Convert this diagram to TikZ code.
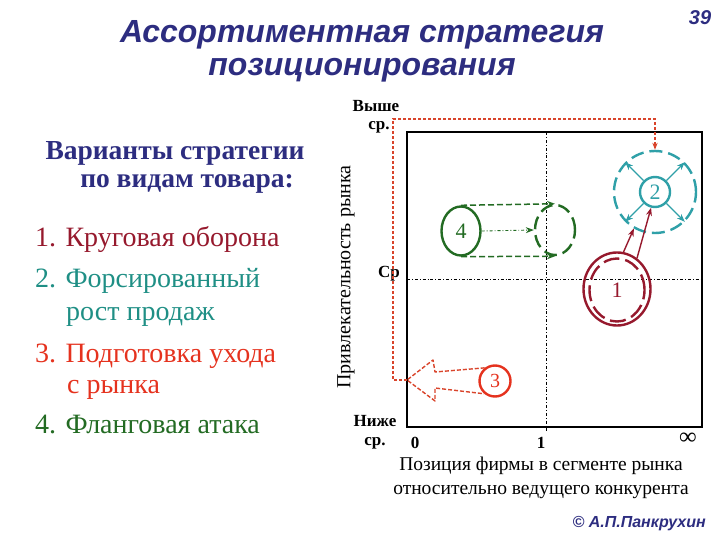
\documentclass[tikz,border=0pt]{standalone}
\usepackage{fontspec}
\setmainfont{Liberation Serif}
\newfontfamily\arialfont{Liberation Sans}
\usepackage{tikz}
\usetikzlibrary{positioning,shapes.geometric,arrows.meta}
\usepackage{xcolor}
\definecolor{navy}{HTML}{2D2D80}
\definecolor{dkred}{HTML}{96192D}
\definecolor{tealtxt}{HTML}{1F8F85}
\definecolor{tealc}{HTML}{2FA0A8}
\definecolor{redc}{HTML}{E5321E}
\definecolor{reddot}{HTML}{D9442B}
\definecolor{greenc}{HTML}{236B23}
\newcommand{\fsize}[1]{\fontsize{#1}{#1}\selectfont}

\begin{document}
\begin{tikzpicture}[x=1pt, y=-1pt, every node/.style={inner sep=0pt},
  titletxt/.style={navy, font=\arialfont\bfseries\itshape\fsize{32}},
  itemtxt/.style={anchor=base west, font=\fsize{28}},
  axistxt/.style={font=\bfseries\fsize{17}},
  ring/.style={draw=#1, text=#1, line width=2.4pt, font=\fsize{22}},
  broken/.style={dash pattern=on 13pt off 6pt}]
  \useasboundingbox (0,0) rectangle (720,540);

  % Title
  \node[titletxt] (title1) at (362,35) {Ассортиментная стратегия};
  \node[titletxt] (title2) at (362,70) {позиционирования};
  \node[navy, font=\arialfont\bfseries\itshape\fsize{20}] (page) at (700,18) {39};

  % Variants
  \node[navy, font=\bfseries\fsize{27.5}] (head1) at (175,153) {Варианты стратегии};
  \node[navy, font=\bfseries\fsize{27.5}] (head2) at (187,184) {по видам товара:};
  \node[itemtxt, dkred] (item1) at (35,247) {1. Круговая оборона};
  \node[itemtxt, tealtxt] (item2) at (35,287) {2. Форсированный};
  \node[itemtxt, tealtxt] (item2b) at (66,320) {рост продаж};
  \node[itemtxt, redc] (item3) at (35,362) {3. Подготовка ухода};
  \node[itemtxt, redc] (item3b) at (67,393) {с рынка};
  \node[itemtxt, greenc] (item4) at (35,433) {4. Фланговая атака};

  % Matrix
  \draw[line width=1.4pt] (407,132) rectangle (702,427);
  \draw[line width=0.8pt, dash dot] (546,132) -- (546,432);
  \draw[line width=0.8pt, dash dot] (407,279) -- (702,279);

  % Axis labels
  \node[axistxt] (hi1) at (376,106) {Выше};
  \node[axistxt] (hi2) at (379,127) {ср.};
  \node[axistxt] (mid) at (389,274) {Ср};
  \node[axistxt] (lo1) at (375,421) {Ниже};
  \node[axistxt] (lo2) at (375,443) {ср.};
  \node[axistxt] (x0) at (415,443) {0};
  \node[axistxt] (x1) at (541,443) {1};
  \node[axistxt, font=\bfseries\fsize{24}] (xinf) at (688,439) {∞};
  \node[rotate=90, font=\fsize{20}] (ylab) at (346,277) {Привлекательность рынка};
  \node[font=\fsize{19.5}] (xlab1) at (541,466) {Позиция фирмы в сегменте рынка};
  \node[font=\fsize{19.5}] (xlab2) at (541,492) {относительно ведущего конкурента};
  \node[anchor=east, navy, font=\arialfont\bfseries\itshape\fsize{16}] (author) at (706,524) {© А.П.Панкрухин};

  % 2 - forced growth
  \node[circle, ring=tealc, minimum size=30] (c2) at (655,192) {2};
  \node[circle, ring=tealc, broken, minimum size=82] (o2) at (655,192) {};
  \foreach \a in {45,135,225,315}
    \draw[tealc, line width=1.3pt, -{Stealth[length=8pt]}] (c2.\a) -- (o2.\a);

  % 4 - flank attack
  \node[ellipse, ring=greenc, minimum width=39, minimum height=49] (c4) at (461,231) {4};
  \node[ellipse, ring=greenc, broken, minimum width=40, minimum height=50] (t4) at (555,230) {};
  \draw[greenc, line width=1.5pt, dash pattern=on 6pt off 3pt, -{Stealth[length=8pt]}] (c4.north) -- (t4.north);
  \draw[greenc, line width=1.5pt, dash pattern=on 6pt off 3pt, -{Stealth[length=8pt]}] (c4.south) -- (t4.south);
  \draw[greenc, line width=0.9pt, dash dot, -{Stealth[length=8pt]}] (c4.east) -- (t4.west);

  % 1 - circular defence
  \node[ellipse, ring=dkred, minimum width=67, minimum height=73] (e1) at (617,289) {};
  \node[ellipse, ring=dkred, dash pattern=on 16pt off 6pt, minimum width=55, minimum height=63] (e1in) at (617,290) {1};
  \draw[dkred, line width=1.4pt, -{Stealth[length=8pt]}] (e1.80) -- (o2.240);
  \draw[dkred, line width=1.4pt, -{Stealth[length=8pt]}] (e1.57) -- (c2.256);

  % 3 - exit
  \node[circle, ring=redc, minimum size=31, font=\fsize{20}] (c3) at (495,381) {3};
  \coordinate (tip3) at (407,380);
  \draw[reddot, line width=1.4pt, dash pattern=on 4pt off 2pt, line join=round]
    (c3.128) -- (435,372) -- (433,360) -- (tip3) -- (435,401) -- (435,388) -- (c3.230);

  % exit path to growth
  \coordinate (up3) at (393,119);
  \draw[reddot, line width=1.5pt, dash pattern=on 3pt off 2pt, -{Stealth[length=7pt]}]
    (tip3) -- (tip3 -| up3) -- (up3) -| (o2.north);
\end{tikzpicture}
\end{document}
